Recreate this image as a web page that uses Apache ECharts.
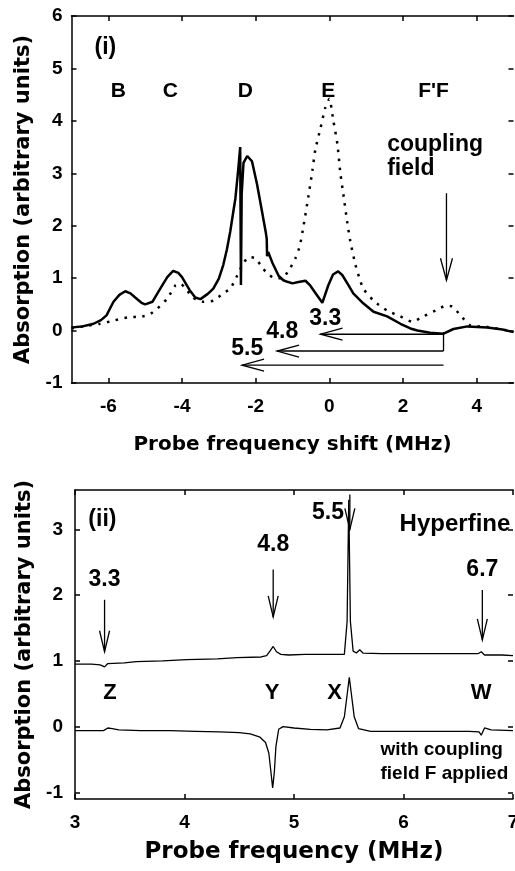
<!DOCTYPE html>
<html><head><meta charset="utf-8">
<script src="https://cdn.jsdelivr.net/npm/echarts@6/dist/echarts.min.js"></script>
<style>html,body{margin:0;padding:0;background:#fff}#c{width:515px;height:871px}</style>
</head><body><div id="c"></div>
<script>
// ---------- Panel (i): probe frequency shift (MHz) vs absorption ----------
const topSolidX = [-7.0,-6.7,-6.4,-6.2,-6.05,-5.86,-5.7,-5.54,-5.4,-5.27,-5.1,-5.0,-4.8,-4.59,-4.4,-4.24,-4.1,-4.0,-3.8,-3.64,-3.5,-3.3,-3.15,-3.0,-2.88,-2.78,-2.69,-2.6,-2.55,-2.47,-2.42,-2.40,-2.38,-2.33,-2.23,-2.1,-1.96,-1.83,-1.72,-1.70,-1.69,-1.66,-1.55,-1.38,-1.25,-1.14,-1.0,-0.87,-0.65,-0.52,-0.33,-0.19,-0.03,0.1,0.24,0.35,0.49,0.65,0.92,1.2,1.57,1.93,2.2,2.39,2.74,3.1,3.37,3.75,4.29,4.7,5.0];
const topSolidY = [0.06,0.08,0.13,0.2,0.29,0.55,0.68,0.75,0.71,0.63,0.53,0.5,0.55,0.8,1.02,1.14,1.1,1.02,0.78,0.63,0.6,0.7,0.8,0.99,1.25,1.55,1.89,2.3,2.52,3.1,3.5,0.87,2.6,3.2,3.33,3.23,2.78,2.28,1.85,1.75,1.42,1.5,1.3,1.05,0.96,0.93,0.9,0.92,0.95,0.86,0.67,0.53,0.86,1.07,1.13,1.06,0.9,0.71,0.52,0.36,0.27,0.13,0.04,0.0,-0.04,-0.06,0.03,0.08,0.06,0.02,-0.03];
const topDotX = [-7.0,-6.68,-6.22,-5.86,-5.48,-5.08,-4.9,-4.67,-4.4,-4.18,-4.05,-3.9,-3.69,-3.42,-3.15,-2.88,-2.69,-2.5,-2.36,-2.19,-2.0,-1.87,-1.69,-1.47,-1.28,-1.1,-0.92,-0.8,-0.7,-0.57,-0.46,-0.38,-0.24,-0.11,0.0,0.11,0.22,0.3,0.38,0.49,0.57,0.71,0.84,0.92,1.2,1.57,1.93,2.25,2.55,2.88,3.15,3.34,3.56,3.83,4.29,5.0];
const topDotY = [0.04,0.08,0.13,0.19,0.25,0.27,0.3,0.42,0.61,0.86,0.9,0.8,0.62,0.55,0.57,0.71,0.8,1.05,1.25,1.4,1.38,1.25,1.09,1.0,1.0,1.15,1.38,1.62,2.0,2.55,3.05,3.45,3.86,4.25,4.42,4.0,3.55,3.0,2.6,2.05,1.7,1.25,0.95,0.8,0.57,0.38,0.27,0.17,0.27,0.38,0.47,0.46,0.29,0.1,0.07,-0.02];
const topXTicks = [-6,-4,-2,0,2,4];

// ---------- Panel (ii): probe frequency (MHz) ----------
const hfX = [3.0,3.15,3.23,3.27,3.3,3.45,3.56,3.8,4.02,4.3,4.48,4.7,4.75,4.78,4.81,4.84,4.88,4.95,5.1,5.3,5.46,5.485,5.5,5.515,5.54,5.57,5.6,5.63,5.8,6.0,6.2,6.5,6.68,6.71,6.74,6.9,7.0];
const hfY = [0.95,0.95,0.94,0.91,0.96,0.97,0.99,1.0,1.02,1.03,1.05,1.06,1.08,1.15,1.22,1.14,1.1,1.09,1.1,1.1,1.1,1.6,3.45,1.6,1.15,1.12,1.17,1.12,1.11,1.11,1.11,1.11,1.11,1.14,1.09,1.09,1.08];
const cpX = [3.0,3.15,3.26,3.3,3.34,3.4,3.6,3.87,4.1,4.32,4.5,4.6,4.69,4.74,4.77,4.79,4.805,4.82,4.835,4.86,4.9,5.0,5.15,5.3,5.42,5.46,5.49,5.505,5.52,5.55,5.59,5.7,6.0,6.3,6.6,6.69,6.71,6.74,6.8,7.0];
const cpY = [-0.06,-0.06,-0.06,-0.02,-0.03,-0.05,-0.06,-0.06,-0.07,-0.08,-0.09,-0.11,-0.16,-0.24,-0.4,-0.7,-0.93,-0.7,-0.3,-0.04,0.0,-0.02,-0.04,-0.05,-0.02,0.15,0.55,0.75,0.55,0.15,-0.03,-0.07,-0.07,-0.07,-0.07,-0.08,-0.13,-0.02,-0.05,-0.06];
const botYTicks = [-1,0,1,2,3];

// ---------- Annotations (data coordinates) ----------
const topLabels = ['(i)','B','C','D','E',"F'F",'coupling','field','3.3','4.8','5.5'];
const topLabelX = [-6.08,-5.73,-4.32,-2.28,-0.03,2.83,1.57,1.57,-0.11,-1.28,-2.23];
const topLabelY = [5.39,4.57,4.57,4.57,4.57,4.57,3.54,3.08,0.23,-0.02,-0.34];
// arrows: [x tail, y tail, x tip, y tip, head?]
const topArrows = [[3.1,-0.07,-0.24,-0.07,1],[3.1,-0.39,-1.42,-0.39,1],[3.1,-0.66,-2.37,-0.66,1],[3.1,-0.03,3.1,-0.39,0],[3.18,2.62,3.18,0.96,1]];
const botLabels = ['(ii)','3.3','4.8','5.5','6.7','Hyperfine','Z','Y','X','W','with coupling','field F applied'];
const botLabelX = [3.25,3.27,4.81,5.31,6.72,6.47,3.32,4.8,5.37,6.71,5.79,5.79];
const botLabelY = [3.15,2.24,2.77,3.25,2.39,3.07,0.52,0.52,0.52,0.52,-0.35,-0.71];
const botArrows = [[3.27,1.93,3.27,1.14,1],[4.81,2.39,4.81,1.67,1],[5.51,3.53,5.51,3.0,1],[6.72,2.08,6.72,1.32,1]];

// ---------- styles ----------
const LIB = '"Liberation Sans", Arial, sans-serif';
const DJV = '"DejaVu Sans", sans-serif';
const topLabelStyle = [
  {fontSize:23, fontFamily:LIB, align:'center'},
  {fontSize:21, fontFamily:LIB, align:'center'},{fontSize:21, fontFamily:LIB, align:'center'},
  {fontSize:21, fontFamily:LIB, align:'center'},{fontSize:21, fontFamily:LIB, align:'center'},
  {fontSize:21, fontFamily:LIB, align:'center'},
  {fontSize:23, fontFamily:LIB, align:'left'},{fontSize:23, fontFamily:LIB, align:'left'},
  {fontSize:23, fontFamily:LIB, align:'center'},{fontSize:23, fontFamily:LIB, align:'center'},{fontSize:23, fontFamily:LIB, align:'center'}
];
const botLabelStyle = [
  {fontSize:23, fontFamily:LIB, align:'center'},
  {fontSize:23, fontFamily:LIB, align:'center'},{fontSize:23, fontFamily:LIB, align:'center'},
  {fontSize:23, fontFamily:LIB, align:'center'},{fontSize:23, fontFamily:LIB, align:'center'},
  {fontSize:24, fontFamily:LIB, align:'center'},
  {fontSize:22, fontFamily:LIB, align:'center'},{fontSize:22, fontFamily:LIB, align:'center'},
  {fontSize:22, fontFamily:LIB, align:'center'},{fontSize:22, fontFamily:LIB, align:'center'},
  {fontSize:19, fontFamily:LIB, align:'left'},{fontSize:19, fontFamily:LIB, align:'left'}
];

function zip(a,b){ return a.map((v,i)=>[v,b[i]]); }

function textSeries(xi, yi, labels, xs, ys, styles){
  return {
    type:'custom', xAxisIndex:xi, yAxisIndex:yi, clip:false, silent:true, z:6,
    data: zip(xs, ys), encode:{x:0, y:1},
    renderItem:(params, api)=>{
      const p = api.coord([api.value(0), api.value(1)]);
      const s = styles[params.dataIndex];
      return {type:'text', x:p[0], y:p[1], style:{
        text: labels[params.dataIndex], fill:'#000', fontWeight:'bold',
        fontSize:s.fontSize, fontFamily:s.fontFamily, align:s.align, verticalAlign:'middle'}};
    }
  };
}
function arrowSeries(xi, yi, arrows, headLen, headHalf, lw){
  return {
    type:'custom', xAxisIndex:xi, yAxisIndex:yi, clip:false, silent:true, z:5,
    data: arrows, encode:{x:[0,2], y:[1,3]},
    renderItem:(params, api)=>{
      const p1 = api.coord([api.value(0), api.value(1)]);
      const p2 = api.coord([api.value(2), api.value(3)]);
      const ch = [{type:'line', shape:{x1:p1[0],y1:p1[1],x2:p2[0],y2:p2[1]}, style:{stroke:'#000', lineWidth:lw}}];
      if (api.value(4)) {
        let dx = p1[0]-p2[0], dy = p1[1]-p2[1];
        const L = Math.hypot(dx,dy) || 1; dx/=L; dy/=L;
        const a = [p2[0]+dx*headLen - dy*headHalf, p2[1]+dy*headLen + dx*headHalf];
        const b = [p2[0]+dx*headLen + dy*headHalf, p2[1]+dy*headLen - dx*headHalf];
        ch.push({type:'polyline', shape:{points:[a,p2,b]}, style:{stroke:'#000', fill:null, lineWidth:lw}});
      }
      return {type:'group', children:ch};
    }
  };
}

const axisLine = {show:true, onZero:false, lineStyle:{color:'#000', width:1.5}};
const noLine = {show:false, onZero:false};
const tickIn = (vals)=>({show:true, inside:true, length:5, lineStyle:{color:'#000', width:1.5}, customValues: vals});
const tickLabel = (vals, margin)=>({show:true, color:'#000', fontWeight:'bold', fontSize:19, fontFamily:LIB, margin, customValues: vals});
const nameStyle = (size)=>({color:'#000', fontWeight:'bold', fontSize:size, fontFamily:DJV});

const option = {
  animation:false,
  backgroundColor:'#fff',
  grid:[
    {left:71.5, top:16, width:442, height:367, containLabel:false, outerBoundsMode:'none'},
    {left:75, top:490, width:438, height:309, containLabel:false, outerBoundsMode:'none'}
  ],
  xAxis:[
    {gridIndex:0, type:'value', position:'bottom', min:-7, max:5, axisLine, axisTick:tickIn(topXTicks),
     axisLabel:tickLabel(topXTicks, 14), splitLine:{show:false},
     name:'Probe frequency shift (MHz)', nameLocation:'middle', nameGap:52, nameTextStyle:nameStyle(20)},
    {gridIndex:0, type:'value', position:'top', min:-7, max:5, axisLine, axisTick:tickIn(topXTicks),
     axisLabel:{show:false}, splitLine:{show:false}},
    {gridIndex:1, type:'value', position:'bottom', min:3, max:7, interval:1, axisLine, axisTick:tickIn([3,4,5,6,7]),
     axisLabel:tickLabel([3,4,5,6,7], 14), splitLine:{show:false},
     name:'Probe frequency (MHz)', nameLocation:'middle', nameGap:42, nameTextStyle:nameStyle(23)},
    {gridIndex:1, type:'value', position:'top', min:3, max:7, interval:1, axisLine, axisTick:tickIn([3,4,5,6,7]),
     axisLabel:{show:false}, splitLine:{show:false}}
  ],
  yAxis:[
    {gridIndex:0, type:'value', position:'left', min:-1, max:6, interval:1, axisLine, axisTick:tickIn(null),
     axisLabel:tickLabel(null, 9), splitLine:{show:false},
     name:'Absorption (arbitrary units)', nameLocation:'middle', nameGap:37, nameTextStyle:nameStyle(21)},
    {gridIndex:0, type:'value', position:'right', min:-1, max:6, interval:1, axisLine:noLine, axisTick:tickIn(null),
     axisLabel:{show:false}, splitLine:{show:false}},
    {gridIndex:1, type:'value', position:'left', min:-1.1, max:3.6, axisLine, axisTick:tickIn(botYTicks),
     axisLabel:tickLabel(botYTicks, 12), splitLine:{show:false},
     name:'Absorption (arbitrary units)', nameLocation:'middle', nameGap:40, nameTextStyle:nameStyle(21)},
    {gridIndex:1, type:'value', position:'right', min:-1.1, max:3.6, axisLine:noLine, axisTick:tickIn(botYTicks),
     axisLabel:{show:false}, splitLine:{show:false}}
  ],
  series:[
    {type:'line', name:'no coupling', xAxisIndex:0, yAxisIndex:0, data:zip(topDotX, topDotY), showSymbol:false, smooth:0.2,
     lineStyle:{color:'#000', width:2.5, type:[2.5,6.5], cap:'butt'}},
    {type:'line', name:'with coupling', xAxisIndex:0, yAxisIndex:0, data:zip(topSolidX, topSolidY), showSymbol:false,
     lineStyle:{color:'#000', width:2.5}},
    {type:'line', name:'Hyperfine', xAxisIndex:2, yAxisIndex:2, data:zip(hfX, hfY), showSymbol:false,
     lineStyle:{color:'#000', width:1.3}},
    {type:'line', name:'with coupling field F', xAxisIndex:2, yAxisIndex:2, data:zip(cpX, cpY), showSymbol:false,
     lineStyle:{color:'#000', width:1.3}},
    arrowSeries(0, 0, topArrows, 22, 6, 1.3),
    arrowSeries(2, 2, botArrows, 21, 5, 1.3),
    textSeries(0, 0, topLabels, topLabelX, topLabelY, topLabelStyle),
    textSeries(2, 2, botLabels, botLabelX, botLabelY, botLabelStyle)
  ]
};
const chart = echarts.init(document.getElementById('c'), null, {renderer:'canvas'});
chart.setOption(option);
</script>
</body></html>
